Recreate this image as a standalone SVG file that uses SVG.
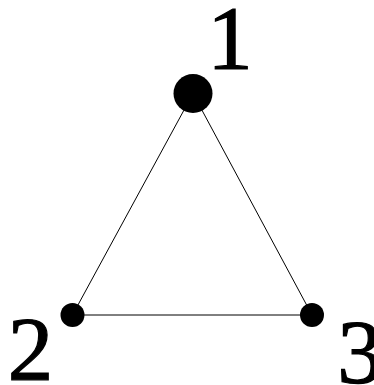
<svg xmlns="http://www.w3.org/2000/svg" width="374" height="385" viewBox="0 0 374 385">
<style>
.edge{stroke:#000;stroke-width:1;fill:none}
.node{fill:#000}
text{font-family:'Liberation Serif','Times New Roman',Times,serif;font-size:91px;fill:#000;stroke:#000;stroke-width:1.2;text-anchor:middle}
</style>
<rect width="374" height="385" fill="#fff"/>
<g id="connectors">
<line class="edge" x1="193" y1="93.5" x2="72.5" y2="315"/>
<line class="edge" x1="193" y1="93.5" x2="312" y2="315"/>
<line class="edge" x1="72.5" y1="315" x2="312" y2="315"/>
</g>
<g id="node1"><circle class="node" cx="193" cy="93.5" r="19.5"/><text x="230" y="69">1</text></g>
<g id="node2"><circle class="node" cx="72.5" cy="315" r="12"/><text x="30.5" y="380">2</text></g>
<g id="node3"><circle class="node" cx="312" cy="315" r="12"/><text x="360" y="383">3</text></g>
</svg>
